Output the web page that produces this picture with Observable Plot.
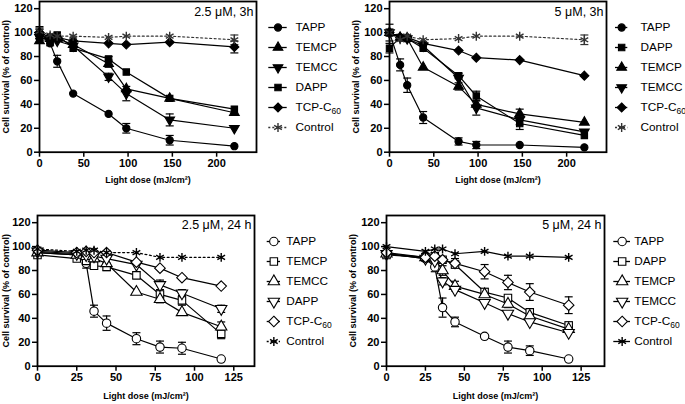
<!DOCTYPE html>
<html><head><meta charset="utf-8">
<script src="https://cdn.jsdelivr.net/npm/d3@7"></script>
<script src="https://cdn.jsdelivr.net/npm/@observablehq/plot@0.6"></script>
<style>
body{margin:0;background:#fff;width:685px;height:404px;overflow:hidden;position:relative;font-family:"Liberation Sans",Arial,sans-serif}
.p{position:absolute}
.p svg{overflow:visible;max-width:none !important;display:block}
.p svg g[aria-label="x-axis tick"],.p svg g[aria-label="y-axis tick"]{stroke-width:1.5px}
</style></head><body>
<script>
// ---------- data ----------
const doses3h = [0, 12, 20, 38, 78, 98, 147, 220];
const doses24h = [0, 25, 31, 36, 44, 63, 78, 92, 117];
const ticks3h = [0, 50, 100, 150, 200];
const ticks24h = [0, 25, 50, 75, 100, 125];
const yTicks = [0, 20, 40, 60, 80, 100, 120];

// Panel A: 2.5 µM, 3h
const namesA = ["TAPP", "TEMCP", "TEMCC", "DAPP", "TCP-C60", "Control"];
const A_TAPP = [100, 91, 76, 49, 32, 20, 10, 5];
const A_TEMCP = [93, 95, 95, 90, 74, 53, 45, 33];
const A_TEMCC = [96, 94, 93, 89, 63, 49, 27, 20];
const A_DAPP = [97, 96, 98, 87, 78, 67, 45, 36];
const A_TCP = [100, 96, 96, 93, 91, 90, 92, 88];
const A_Ctrl = [101, 98, 97, 97, 96, 97, 97, 94];
const A_TAPP_err = [3, 2, 5, 0, 0, 4, 4, 0];
const A_TEMCP_err = [2, 0, 0, 0, 3, 0, 0, 0];
const A_TEMCC_err = [0, 0, 0, 0, 3, 6, 5, 0];
const A_DAPP_err = [2, 0, 0, 0, 2, 0, 0, 0];
const A_TCP_err = [5, 0, 0, 0, 0, 0, 0, 5];
const A_Ctrl_err = [3, 0, 0, 0, 0, 0, 0, 4];

// Panel B: 5 µM, 3h
const namesB = ["TAPP", "DAPP", "TEMCP", "TEMCC", "TCP-C60", "Control"];
const B_TAPP = [100, 73, 56, 29, 9, 6, 6, 4];
const B_DAPP = [87, 96, 95, 87, 64, 47, 24, 14];
const B_TEMCP = [100, 96, 95, 71, 55, 40, 32, 25];
const B_TEMCC = [100, 96, 95, 89, 62, 37, 27, 17];
const B_TCP = [100, 96, 96, 91, 85, 79, 77, 64];
const B_Ctrl = [100, 94, 97, 94, 95, 97, 97, 94];
const B_TAPP_err = [0, 5, 6, 5, 3, 3, 0, 0];
const B_DAPP_err = [4, 0, 0, 0, 2, 4, 5, 0];
const B_TEMCP_err = [7, 0, 0, 0, 3, 0, 4, 0];
const B_TEMCC_err = [3, 0, 0, 0, 0, 6, 4, 0];
const B_TCP_err = [0, 0, 0, 0, 0, 0, 0, 0];
const B_Ctrl_err = [0, 0, 0, 0, 0, 0, 0, 4];

// Panel C: 2.5 µM, 24 h
const namesC = ["TAPP", "TEMCP", "TEMCC", "DAPP", "TCP-C60", "Control"];
const C_TAPP = [95, 93, 86, 46, 36, 23, 16, 15, 6];
const C_TEMCP = [93, 90, 88, 84, 83, 76, 60, 55, 27];
const C_TEMCC = [95, 93, 92, 90, 86, 62, 56, 45, 33];
const C_DAPP = [96, 94, 93, 92, 90, 85, 68, 61, 48];
const C_TCP = [97, 95, 96, 95, 95, 87, 82, 74, 67];
const C_Ctrl = [98, 96, 97, 97, 95, 95, 91, 91, 91];
const C_TAPP_err = [0, 0, 4, 5, 6, 5, 5, 5, 0];
const C_TEMCP_err = [0, 0, 0, 0, 3, 3, 4, 4, 4];
const C_TEMCC_err = [0, 0, 0, 0, 0, 0, 3, 0, 4];
const C_DAPP_err = [0, 0, 0, 0, 0, 0, 4, 3, 3];
const C_TCP_err = [0, 0, 0, 0, 0, 0, 0, 0, 0];
const C_Ctrl_err = [0, 0, 0, 0, 0, 0, 0, 0, 0];

// Panel D: 5 µM, 24 h
const namesD = ["TAPP", "DAPP", "TEMCP", "TEMCC", "TCP-C60", "Control"];
const D_TAPP = [94, 90, 83, 49, 37, 25, 16, 13, 6];
const D_DAPP = [93, 91, 92, 89, 85, 62, 57, 45, 34];
const D_TEMCP = [94, 91, 90, 80, 67, 60, 52, 42, 31];
const D_TEMCC = [94, 90, 88, 71, 64, 53, 44, 37, 28];
const D_TCP = [95, 91, 92, 89, 86, 79, 70, 62, 51];
const D_Ctrl = [100, 96, 98, 98, 94, 96, 92, 92, 91];
const D_TAPP_err = [0, 0, 4, 8, 4, 0, 5, 4, 0];
const D_DAPP_err = [0, 0, 0, 0, 0, 3, 0, 0, 3];
const D_TEMCP_err = [0, 0, 0, 4, 4, 0, 3, 3, 0];
const D_TEMCC_err = [0, 0, 0, 3, 0, 0, 0, 0, 0];
const D_TCP_err = [0, 0, 0, 0, 4, 6, 6, 7, 7];
const D_Ctrl_err = [0, 0, 0, 0, 0, 0, 0, 0, 0];

// ---------- symbols ----------
const s3 = Math.sqrt(3);
const triDown = {draw(ctx, size) { const y = Math.sqrt(size / (s3 * 3)); ctx.moveTo(0, 2 * y); ctx.lineTo(-s3 * y, -y); ctx.lineTo(s3 * y, -y); ctx.closePath(); }};
const triUp = {draw(ctx, size) { const y = Math.sqrt(size / (s3 * 3)); ctx.moveTo(0, -2 * y); ctx.lineTo(-s3 * y, y); ctx.lineTo(s3 * y, y); ctx.closePath(); }};
const diamond = {draw(ctx, size) { const h = Math.sqrt(size / 2); ctx.moveTo(0, -h); ctx.lineTo(h, 0); ctx.lineTo(0, h); ctx.lineTo(-h, 0); ctx.closePath(); }};
const cap = {draw(ctx) { ctx.moveTo(-4, 0); ctx.lineTo(4, 0); }};

const FONT = "Liberation Sans, Arial, sans-serif";
const Y_LABEL = "Cell survival (% of control)";
const X_LABEL = "Light dose (mJ/cm²)";

function fixSub(svg) {
  svg.querySelectorAll("text").forEach(t => {
    if (t.textContent === "TCP-C60") t.innerHTML = 'TCP-C<tspan dy="3" font-size="8.5">60</tspan>';
  });
}

function place(node, left, top) {
  const div = document.createElement("div");
  div.className = "p";
  div.style.left = left + "px";
  div.style.top = top + "px";
  div.appendChild(node);
  document.body.appendChild(div);
}

function drawPanel(cfg) {
  const marks = [];
  const series = cfg.names.map((name, k) => ({
    name,
    ctrl: name === "Control",
    sym: cfg.syms[k],
    rows: cfg.doses.map((x, i) => ({x, y: cfg.vals[k][i], e: cfg.errs[k][i]}))
  }));
  for (const s of series) {
    marks.push(Plot.line(s.rows, {x: "x", y: "y", stroke: s.ctrl ? cfg.ctrlColor : "black", strokeWidth: 1.2,
      strokeDasharray: s.ctrl && cfg.ctrlDash ? "2,2.5" : undefined}));
  }
  for (const s of series) {
    const er = s.rows.filter(d => d.e > 0);
    const col = s.ctrl ? cfg.ctrlColor : "black";
    marks.push(Plot.ruleX(er, {x: "x", y1: d => d.y - d.e, y2: d => d.y + d.e, stroke: col, strokeWidth: 1.2}));
    marks.push(Plot.dot(er, {x: "x", y: d => d.y - d.e, symbol: cap, fill: "none", stroke: col, strokeWidth: 1.2}));
    marks.push(Plot.dot(er, {x: "x", y: d => d.y + d.e, symbol: cap, fill: "none", stroke: col, strokeWidth: 1.2}));
  }
  for (const s of series) {
    const col = s.ctrl ? cfg.ctrlColor : "black";
    if (s.ctrl) {
      marks.push(Plot.dot(s.rows, {x: "x", y: "y", symbol: "asterisk", r: 4.2, stroke: col, strokeWidth: 1.4, fill: "none"}));
    } else {
      marks.push(Plot.dot(s.rows, {x: "x", y: "y", symbol: s.sym, r: cfg.r, stroke: "black", strokeWidth: 1.1,
        fill: cfg.filled ? "black" : "white"}));
    }
  }
  marks.push(Plot.frame({stroke: "black", strokeWidth: 1.8}));
  marks.push(Plot.text([cfg.title], {frameAnchor: "top-right", dx: -3, dy: cfg.titleDy, fontSize: 12.5, fontWeight: "normal", textAnchor: "end", lineAnchor: "top"}));
  marks.push(Plot.text([Y_LABEL], {x: () => 0, y: () => 63, rotate: -90, dx: cfg.ylabDx, fontSize: 9, fontWeight: "bold", textAnchor: "middle", lineAnchor: "middle"}));
  marks.push(Plot.text([X_LABEL], {frameAnchor: "bottom", dy: cfg.xlabDy, fontSize: 9, fontWeight: "bold"}));

  const svg = Plot.plot({
    width: cfg.width, height: cfg.height,
    marginLeft: cfg.mL, marginRight: cfg.mR, marginTop: cfg.mT, marginBottom: cfg.mB,
    style: {fontFamily: FONT, fontSize: "11px", fontWeight: "bold", background: "transparent", color: "black"},
    x: {domain: cfg.xDomain, ticks: cfg.xTicks, tickSize: 5, tickPadding: 2, label: null, tickFormat: d => String(d)},
    y: {domain: [0, 126], ticks: yTicks, tickSize: 5, tickPadding: 2, label: null, tickFormat: d => String(d)},
    marks
  });
  place(svg, cfg.left, cfg.top);

  // legend: the frame spans exactly the short line segment; tickY draws it, the symbol sits at its middle
  const L = cfg.legend;
  const LW = 100;
  const lmarks = [];
  for (const s of series) {
    const col = s.ctrl ? cfg.ctrlColor : "black";
    lmarks.push(Plot.tickY([s.name], {y: d => d, stroke: col, strokeWidth: 1.3,
      strokeDasharray: s.ctrl && L.ctrlDash ? "2,2" : undefined}));
    lmarks.push(s.ctrl
      ? Plot.dot([s.name], {y: d => d, symbol: "asterisk", r: 4.2, stroke: col, strokeWidth: 1.4, fill: "none"})
      : Plot.dot([s.name], {y: d => d, symbol: s.sym, r: cfg.r, stroke: "black", strokeWidth: 1.1, fill: cfg.filled ? "black" : "white"}));
  }
  lmarks.push(Plot.text(cfg.names, {y: d => d, frameAnchor: "right", dx: L.labelDx, text: d => d, textAnchor: "start", fontSize: 11.8}));
  const lsvg = Plot.plot({
    width: LW, height: 150,
    marginLeft: L.lineRange[0], marginRight: LW - L.lineRange[1], marginTop: 0, marginBottom: 0,
    style: {fontFamily: FONT, fontSize: "12px", background: "transparent", color: "black"},
    y: {type: "point", domain: cfg.names, range: L.rowRange, padding: 0, axis: null},
    marks: lmarks
  });
  fixSub(lsvg);
  place(lsvg, L.left, L.top);
}

const symsA = ["circle", triUp, triDown, "square", diamond, "asterisk"];
const symsB = ["circle", "square", triUp, triDown, diamond, "asterisk"];
const symsC = ["circle", "square", triUp, triDown, diamond, "asterisk"];
const symsD = ["circle", "square", triUp, triDown, diamond, "asterisk"];

drawPanel({
  left: 0, top: 0, width: 262, height: 195, mL: 39, mR: 6, mT: 1, mB: 43.3,
  xDomain: [0, 245], xTicks: ticks3h, doses: doses3h, title: "2.5 μM, 3h", titleDy: 6,
  names: namesA, syms: symsA,
  vals: [A_TAPP, A_TEMCP, A_TEMCC, A_DAPP, A_TCP, A_Ctrl],
  errs: [A_TAPP_err, A_TEMCP_err, A_TEMCC_err, A_DAPP_err, A_TCP_err, A_Ctrl_err],
  filled: true, r: 3.6, ctrlColor: "#333", ctrlDash: true, ylabDx: -33, xlabDy: 31,
  legend: {left: 260, top: 0, lineRange: [8.3, 26.7], rowRange: [25.7, 127.5], labelDx: 8.3, ctrlDash: true}
});
drawPanel({
  left: 350, top: 0, width: 262, height: 195, mL: 39, mR: 6, mT: 1, mB: 43.3,
  xDomain: [0, 245], xTicks: ticks3h, doses: doses3h, title: "5 μM, 3h", titleDy: 6,
  names: namesB, syms: symsB,
  vals: [B_TAPP, B_DAPP, B_TEMCP, B_TEMCC, B_TCP, B_Ctrl],
  errs: [B_TAPP_err, B_DAPP_err, B_TEMCP_err, B_TEMCC_err, B_TCP_err, B_Ctrl_err],
  filled: true, r: 3.6, ctrlColor: "#333", ctrlDash: true, ylabDx: -33, xlabDy: 31,
  legend: {left: 605, top: 0, lineRange: [10, 22.3], rowRange: [25.7, 128], labelDx: 12.7, ctrlDash: true}
});
drawPanel({
  left: 0, top: 214, width: 260, height: 190, mL: 37, mR: 6, mT: 1, mB: 38.3,
  xDomain: [0, 138.2], xTicks: ticks24h, doses: doses24h, title: "2.5 μM, 24 h", titleDy: 5,
  names: namesC, syms: symsC,
  vals: [C_TAPP, C_TEMCP, C_TEMCC, C_DAPP, C_TCP, C_Ctrl],
  errs: [C_TAPP_err, C_TEMCP_err, C_TEMCC_err, C_DAPP_err, C_TCP_err, C_Ctrl_err],
  filled: false, r: 4.2, ctrlColor: "black", ctrlDash: true, ylabDx: -31, xlabDy: 33,
  legend: {left: 258, top: 200, lineRange: [8.7, 22], rowRange: [40, 142.5], labelDx: 5.7, ctrlDash: true}
});
drawPanel({
  left: 347, top: 214, width: 263, height: 190, mL: 39, mR: 6, mT: 1, mB: 38.3,
  xDomain: [0, 140], xTicks: ticks24h, doses: doses24h, title: "5 μM, 24 h", titleDy: 5,
  names: namesD, syms: symsD,
  vals: [D_TAPP, D_DAPP, D_TEMCP, D_TEMCC, D_TCP, D_Ctrl],
  errs: [D_TAPP_err, D_DAPP_err, D_TEMCP_err, D_TEMCC_err, D_TCP_err, D_Ctrl_err],
  filled: false, r: 4.2, ctrlColor: "black", ctrlDash: false, ylabDx: -33, xlabDy: 33,
  legend: {left: 605, top: 200, lineRange: [8.3, 25], rowRange: [40, 142.5], labelDx: 3.7, ctrlDash: false}
});
</script>
</body></html>
